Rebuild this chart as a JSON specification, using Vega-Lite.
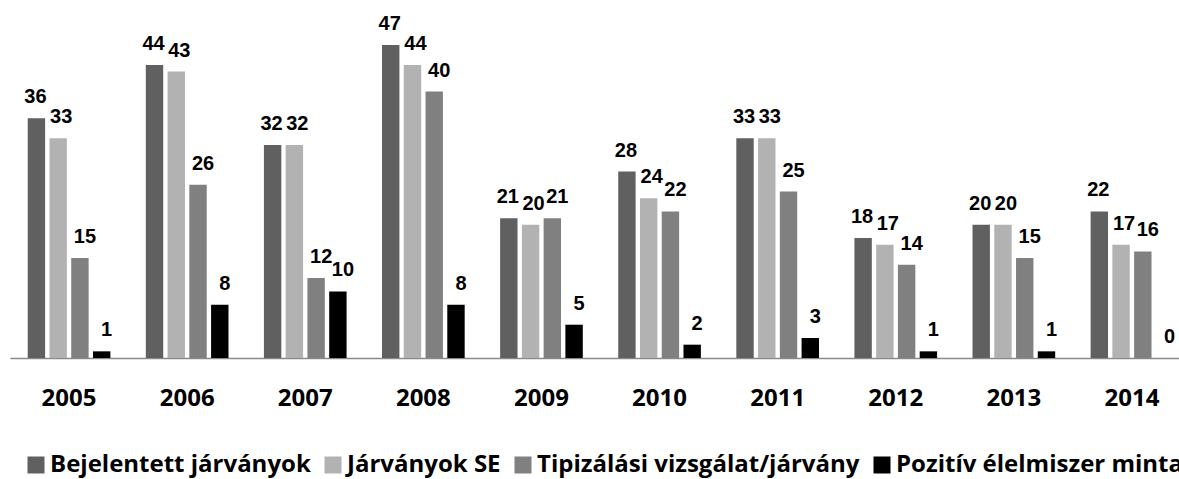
{
  "$schema": "https://vega.github.io/schema/vega-lite/v6.json",
  "width": 1181,
  "height": 333,
  "autosize": "none",
  "padding": {"left": 10, "top": 25, "right": 0, "bottom": 121},
  "background": "white",
  "data": {
    "values": [
      {"year": "2005", "series": "Bejelentett járványok", "value": 36},
      {"year": "2005", "series": "Járványok SE", "value": 33},
      {"year": "2005", "series": "Tipizálási vizsgálat/járvány", "value": 15},
      {"year": "2005", "series": "Pozitív élelmiszer minta", "value": 1},
      {"year": "2006", "series": "Bejelentett járványok", "value": 44},
      {"year": "2006", "series": "Járványok SE", "value": 43},
      {"year": "2006", "series": "Tipizálási vizsgálat/járvány", "value": 26},
      {"year": "2006", "series": "Pozitív élelmiszer minta", "value": 8},
      {"year": "2007", "series": "Bejelentett járványok", "value": 32},
      {"year": "2007", "series": "Járványok SE", "value": 32},
      {"year": "2007", "series": "Tipizálási vizsgálat/járvány", "value": 12},
      {"year": "2007", "series": "Pozitív élelmiszer minta", "value": 10},
      {"year": "2008", "series": "Bejelentett járványok", "value": 47},
      {"year": "2008", "series": "Járványok SE", "value": 44},
      {"year": "2008", "series": "Tipizálási vizsgálat/járvány", "value": 40},
      {"year": "2008", "series": "Pozitív élelmiszer minta", "value": 8},
      {"year": "2009", "series": "Bejelentett járványok", "value": 21},
      {"year": "2009", "series": "Járványok SE", "value": 20},
      {"year": "2009", "series": "Tipizálási vizsgálat/járvány", "value": 21},
      {"year": "2009", "series": "Pozitív élelmiszer minta", "value": 5},
      {"year": "2010", "series": "Bejelentett járványok", "value": 28},
      {"year": "2010", "series": "Járványok SE", "value": 24},
      {"year": "2010", "series": "Tipizálási vizsgálat/járvány", "value": 22},
      {"year": "2010", "series": "Pozitív élelmiszer minta", "value": 2},
      {"year": "2011", "series": "Bejelentett járványok", "value": 33},
      {"year": "2011", "series": "Járványok SE", "value": 33},
      {"year": "2011", "series": "Tipizálási vizsgálat/járvány", "value": 25},
      {"year": "2011", "series": "Pozitív élelmiszer minta", "value": 3},
      {"year": "2012", "series": "Bejelentett járványok", "value": 18},
      {"year": "2012", "series": "Járványok SE", "value": 17},
      {"year": "2012", "series": "Tipizálási vizsgálat/járvány", "value": 14},
      {"year": "2012", "series": "Pozitív élelmiszer minta", "value": 1},
      {"year": "2013", "series": "Bejelentett járványok", "value": 20},
      {"year": "2013", "series": "Járványok SE", "value": 20},
      {"year": "2013", "series": "Tipizálási vizsgálat/járvány", "value": 15},
      {"year": "2013", "series": "Pozitív élelmiszer minta", "value": 1},
      {"year": "2014", "series": "Bejelentett járványok", "value": 22},
      {"year": "2014", "series": "Járványok SE", "value": 17},
      {"year": "2014", "series": "Tipizálási vizsgálat/járvány", "value": 16},
      {"year": "2014", "series": "Pozitív élelmiszer minta", "value": 0}
    ]
  },
  "encoding": {
    "x": {
      "field": "year",
      "type": "nominal",
      "scale": {"paddingInner": 0.3, "paddingOuter": 0.15},
      "axis": {
        "title": null,
        "labelAngle": 0,
        "ticks": false,
        "tickSize": 0,
        "domainColor": "#8a8a8a",
        "domainWidth": 1.5,
        "labelFont": "Open Sans",
        "labelFontWeight": "bold",
        "labelFontSize": 24,
        "labelColor": "#000000",
        "labelBaseline": "alphabetic",
        "labelPadding": 47
      }
    },
    "xOffset": {
      "field": "series",
      "type": "nominal",
      "scale": {"domain": ["Bejelentett járványok", "Járványok SE", "Tipizálási vizsgálat/járvány", "Pozitív élelmiszer minta"], "paddingInner": 0.2, "paddingOuter": 0}
    },
    "y": {
      "field": "value",
      "type": "quantitative",
      "scale": {"domain": [0, 50]},
      "axis": null
    }
  },
  "layer": [
    {
      "mark": {"type": "bar"},
      "encoding": {
        "color": {
          "field": "series",
          "type": "nominal",
          "scale": {
            "domain": ["Bejelentett járványok", "Járványok SE", "Tipizálási vizsgálat/járvány", "Pozitív élelmiszer minta"],
            "range": ["#606060", "#b2b2b2", "#808080", "#000000"]
          },
          "legend": {
            "title": null,
            "orient": "none",
            "direction": "horizontal",
            "legendX": 14,
            "legendY": 428,
            "symbolType": "square",
            "symbolSize": 289,
            "symbolStrokeWidth": 0,
            "symbolOpacity": 1,
            "labelFont": "Open Sans",
            "labelFontWeight": "bold",
            "labelFontSize": 24,
            "labelColor": "#000000",
            "labelOffset": 2,
            "columnPadding": 10,
            "labelLimit": 1000
          }
        }
      }
    },
    {
      "transform": [{"filter": "datum.series === 'Bejelentett járványok'"}],
      "mark": {
        "type": "text",
        "baseline": "alphabetic",
        "dy": -15,
        "dx": -1,
        "font": "Liberation Sans",
        "fontWeight": "bold",
        "fontSize": 20,
        "color": "#000000"
      },
      "encoding": {
        "text": {"field": "value", "type": "quantitative"}
      }
    },
    {
      "transform": [{"filter": "datum.series === 'Járványok SE'"}],
      "mark": {
        "type": "text",
        "baseline": "alphabetic",
        "dy": -15,
        "dx": 3,
        "font": "Liberation Sans",
        "fontWeight": "bold",
        "fontSize": 20,
        "color": "#000000"
      },
      "encoding": {
        "text": {"field": "value", "type": "quantitative"}
      }
    },
    {
      "transform": [{"filter": "datum.series === 'Tipizálási vizsgálat/járvány' || datum.series === 'Pozitív élelmiszer minta'"}],
      "mark": {
        "type": "text",
        "baseline": "alphabetic",
        "dy": -15,
        "dx": 5,
        "font": "Liberation Sans",
        "fontWeight": "bold",
        "fontSize": 20,
        "color": "#000000"
      },
      "encoding": {
        "text": {"field": "value", "type": "quantitative"}
      }
    }
  ],
  "config": {"view": {"stroke": null}}
}
